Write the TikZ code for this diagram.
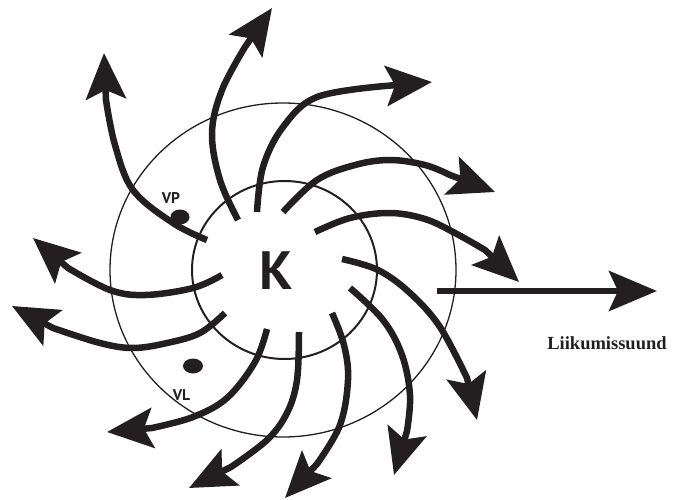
\documentclass[tikz,border=0pt]{standalone}
\usepackage{fontspec}
\setmainfont{Liberation Serif}
\newfontfamily\labelsans{PT Sans}
\usetikzlibrary{arrows.meta}
\definecolor{ink}{HTML}{231F20}
\tikzset{
  flow/.style={draw=ink, line width=6.5pt,
    -{Stealth[length=46pt,width=40pt,inset=9pt]}},
  ring/.style={draw=ink, line width=#1},
  spot/.style={fill=ink},
  tag/.style={text=ink, inner sep=0pt, anchor=base, font=\labelsans\bfseries\fontsize{15.5}{16}\selectfont},
}
\begin{document}
\begin{tikzpicture}[x=1pt, y=-1pt]
\useasboundingbox (0,0) rectangle (680,500);

% outer and inner zones
\draw[ring=1.3pt] (283,270) ellipse [x radius=173, y radius=167];
\draw[ring=2pt] (284.5,270) ellipse [x radius=92.5, y radius=89];

% radiating curved flows: smooth body, straight run into the head
\draw[flow] plot[smooth, tension=0.6] coordinates {(207,240) (173,223) (133,190) (115,145) (106,100)} -- (104,53);
\draw[flow] plot[smooth, tension=0.6] coordinates {(238,220) (220,180) (212,133) (222,90) (245,47)} -- (272,8);
\draw[flow] plot[smooth, tension=0.6] coordinates {(257,212) (263,167) (283,127) (317,97) (385,86)} -- (432,82);
\draw[flow] plot[smooth, tension=0.6] coordinates {(283,212) (317,180) (355,165) (390,160) (425,165) (450,175)} -- (495,192);
\draw[flow] plot[smooth, tension=0.6] coordinates {(315,232) (350,218) (390,213) (425,219) (455,233) (485,250)} -- (519,282);
\draw[flow] plot[smooth, tension=0.6] coordinates {(342,259) (378,270) (410,293) (440,327) (467,378)} -- (477,420);
\draw[flow] plot[smooth, tension=0.6] coordinates {(350,288) (383,320) (402,355) (410,395) (407,431)} -- (394,475);
\draw[flow] plot[smooth, tension=0.6] coordinates {(332,313) (344,345) (348,380) (340,425) (317,464)} -- (285,498);
\draw[flow] plot[smooth, tension=0.6] coordinates {(299,332) (297,380) (287,413) (267,440) (231,467)} -- (189,488);
\draw[flow] plot[smooth, tension=0.6] coordinates {(267,329) (255,362) (227,398) (193,417) (152,428)} -- (107,432);
\draw[flow] plot[smooth, tension=0.6] coordinates {(225,313) (200,333) (167,343) (133,348) (100,343) (53,328)} -- (12,306);
\draw[flow] plot[smooth, tension=0.6] coordinates {(222,275) (193,288) (145,295) (110,290) (68,268)} -- (33,238);

% direction of motion
\coordinate (dirstart) at (437,291);
\coordinate (dirend) at (657,291);
\draw[draw=ink, line width=6.5pt, -{Stealth[length=48pt,width=40pt,inset=9pt]}] (dirstart) -- (dirend);
\node[text=ink, inner sep=0pt, anchor=base, font=\bfseries\fontsize{18.5}{20}\selectfont] (dir) at (607,349) {Liikumissuund};

% centre and marked points
\node[text=ink, inner sep=0pt, anchor=base, font=\labelsans\bfseries\fontsize{54}{54}\selectfont] (K) at (276.5,289) {K};
\fill[spot] (180,217) ellipse [x radius=9.5, y radius=7.5];
\fill[spot] (193,366) ellipse [x radius=10, y radius=7.5];
\node[tag] (vp) at (171,203) {VP};
\node[tag] (vl) at (181.5,400) {VL};
\end{tikzpicture}
\end{document}
